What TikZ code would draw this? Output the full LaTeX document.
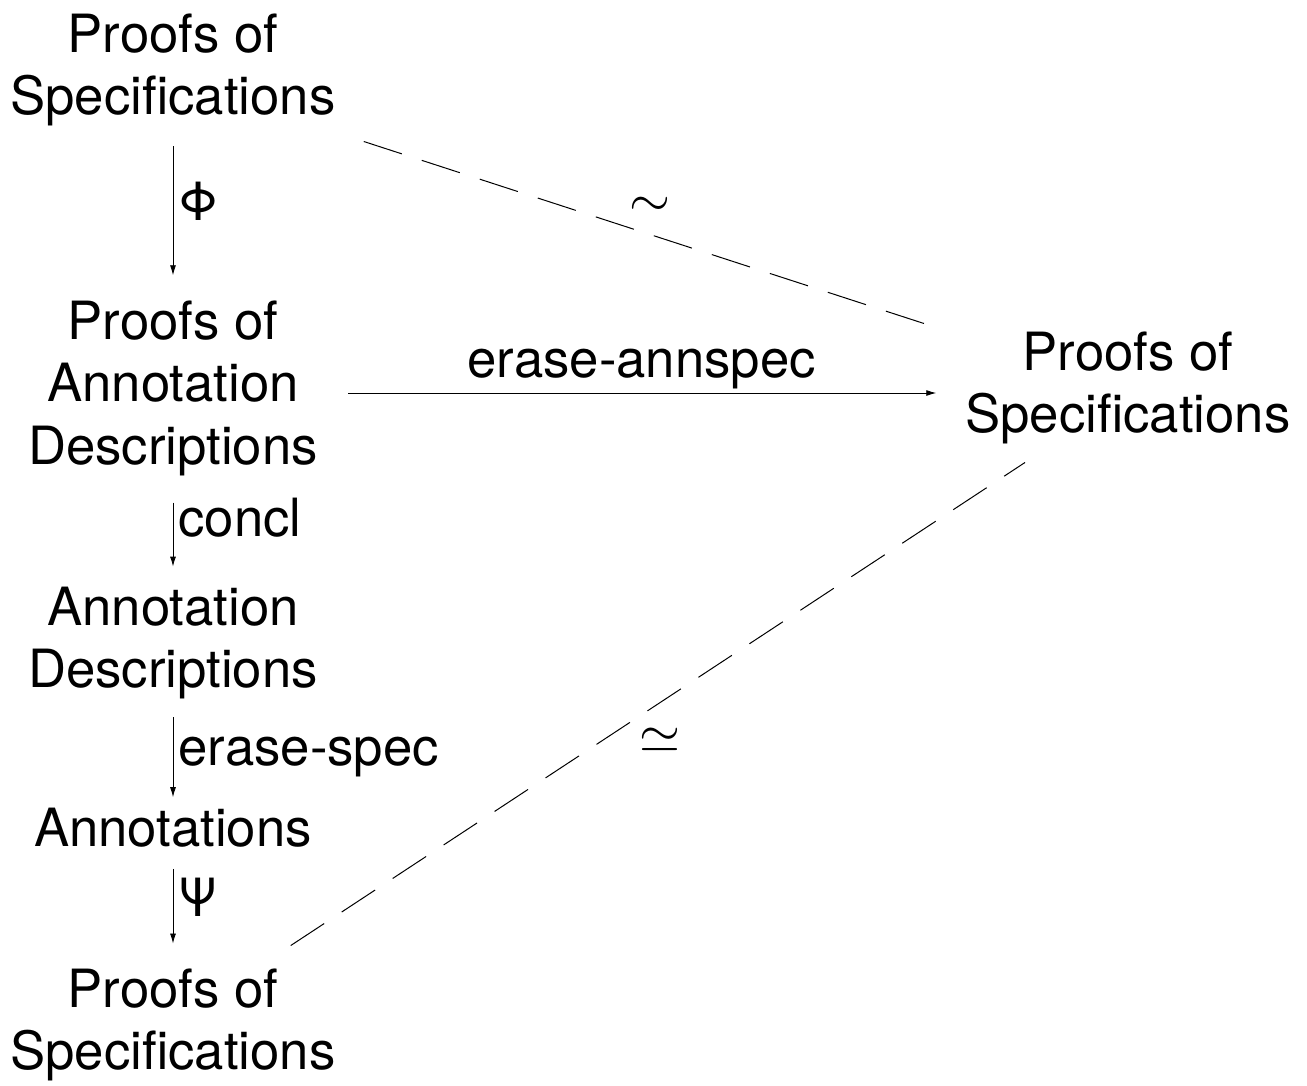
\RequirePackage{fix-cm}
\documentclass[tikz,border=0pt]{standalone}
\usepackage{fontspec}
\setmainfont{TeX Gyre Heros}
\usetikzlibrary{arrows.meta}
\begin{document}
\begin{tikzpicture}[x=1pt,y=-1pt,
  txt/.style={font=\fontsize{52.7}{62.5}\selectfont, align=center, inner sep=0pt},
  lab/.style={font=\fontsize{52.7}{62.5}\selectfont, inner sep=0pt},
  arr/.style={-{Latex[length=10pt,width=6pt]}, line width=0.9pt},
  dsh/.style={dash pattern=on 40pt off 21pt, line width=1pt}]
\useasboundingbox (0,0) rectangle (1307,1085);
\node[txt] (n1) at (173,70) {Proofs of\\Specifications};
\node[txt] (n2) at (173,388) {Proofs of\\Annotation\\Descriptions};
\node[txt] (n3) at (173,643) {Annotation\\Descriptions};
\node[txt] (n4) at (173,828) {Annotations};
\node[txt] (n5) at (173,1025) {Proofs of\\Specifications};
\node[txt] (r) at (1128,388) {Proofs of\\Specifications};

\draw[arr, shorten <=20pt, shorten >=25pt] (n1.south) -- (n2.north)
  node[lab, midway, anchor=west, xshift=5pt, yshift=12pt] (phi) {Φ};
\draw[arr, shorten <=27pt, shorten >=20pt] (n2.south) -- (n3.north)
  node[lab, midway, anchor=west, xshift=5pt, yshift=13pt] (concl) {concl};
\draw[arr, shorten <=18pt, shorten >=11pt] (n3.south) -- (n4.north)
  node[lab, midway, anchor=west, xshift=5pt, yshift=-3pt] (espec) {erase-spec};
\draw[arr, shorten <=21pt, shorten >=25pt] (n4.south) -- (n5.north)
  node[lab, midway, anchor=west, xshift=5pt, yshift=11pt] (psi) {Ψ};
\draw[arr, shorten <=30pt, shorten >=29pt] ([yshift=-5pt]n2.east) -- ([yshift=-5pt]n2.east -| r.west)
  node[lab, midway, above=4pt] (eann) {erase-annspec};

\draw[dsh] ([shift={(28,15)}]n1.south east) -- ([shift={(-32,-5)}]r.north west);
\draw[dsh] ([shift={(-45,-23)}]n5.north east) -- ([shift={(-103,18)}]r.south);
\node[lab] (sim) at (650,207) {$\sim$};
\node[lab] (simeq) at (660,740) {$\simeq$};
\end{tikzpicture}
\end{document}
